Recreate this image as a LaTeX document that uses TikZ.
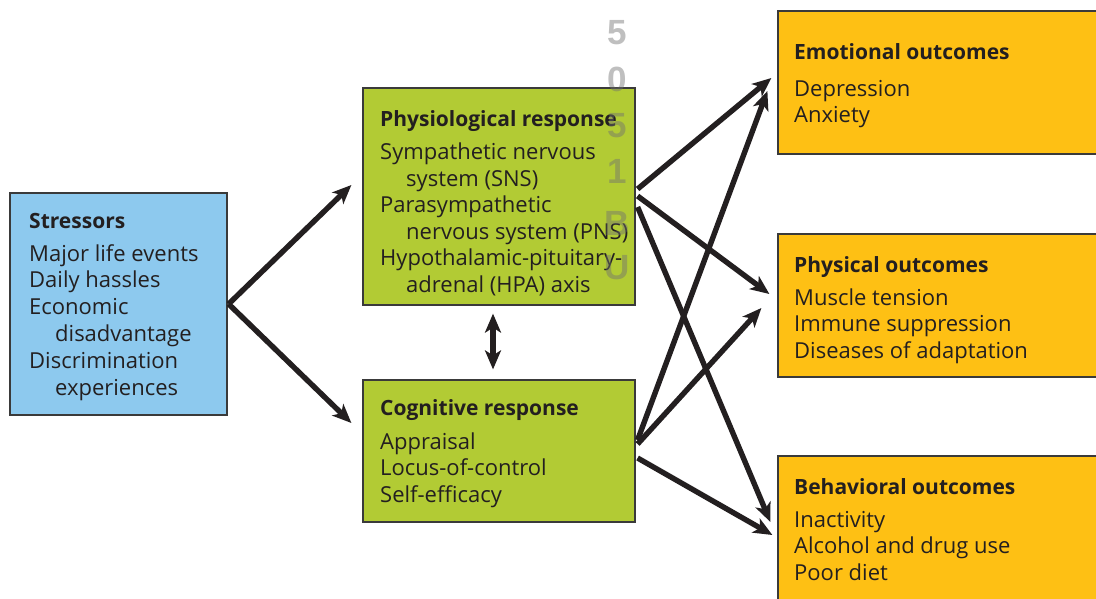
\documentclass[tikz,border=0pt]{standalone}
\usepackage{fontspec}
\setmainfont{Open Sans}
\newfontfamily\wmfont{Liberation Sans}
\usetikzlibrary{arrows.meta}
\definecolor{sblue}{HTML}{8DC9EE}
\definecolor{rgreen}{HTML}{B2CB34}
\definecolor{oorange}{HTML}{FEC014}
\definecolor{arrowc}{HTML}{231F20}
\definecolor{boxline}{HTML}{3A3A3A}
\definecolor{wmgray}{HTML}{707070}
\tikzset{
  box/.style={draw=boxline, line width=1.2pt, rectangle, inner sep=0pt},
  txt/.style={anchor=base west, inner sep=0pt, text=arrowc, font=\fontsize{22}{24}\selectfont},
  ttl/.style={txt, font=\fontsize{21}{24}\selectfont\bfseries},
  wm/.style={inner sep=0pt, text=wmgray, text opacity=0.45, font=\wmfont\bfseries\fontsize{35}{35}\selectfont},
  arr/.style={draw=arrowc, line width=5.4pt, -{Stealth[length=19pt,width=16pt,inset=5pt]}},
  darr/.style={draw=arrowc, line width=5.4pt, {Stealth[length=19pt,width=16pt,inset=5pt]}-{Stealth[length=19pt,width=16pt,inset=5pt]}}
}
\begin{document}
\begin{tikzpicture}[x=1pt,y=-1pt]
\useasboundingbox (0,0) rectangle (1096,598);
\clip (0,0) rectangle (1096,598);
% boxes
\node[box, fill=sblue, minimum width=217pt, minimum height=222pt] (stress) at (118.5,304) {};
\node[box, fill=rgreen, minimum width=272pt, minimum height=217pt] (phys) at (499,196.5) {};
\node[box, fill=rgreen, minimum width=272pt, minimum height=142pt] (cog) at (499,451) {};
\node[box, fill=oorange, minimum width=322pt, minimum height=143pt] (emo) at (939,82.5) {};
\node[box, fill=oorange, minimum width=322pt, minimum height=143pt] (physo) at (939,305.5) {};
\node[box, fill=oorange, minimum width=322pt, minimum height=154pt] (beh) at (939,533) {};
% stressors text
\node[ttl] (s0) at (29,228) {Stressors};
\node[txt] (s1) at (29,261) {Major life events};
\node[txt] (s2) at (29,287) {Daily hassles};
\node[txt] (s3) at (29,314) {Economic};
\node[txt] (s4) at (55,341) {disadvantage};
\node[txt] (s5) at (29,368) {Discrimination};
\node[txt] (s6) at (55,395) {experiences};
% physiological text
\node[ttl] (p0) at (380,126) {Physiological response};
\node[txt] (p1) at (380,159) {Sympathetic nervous};
\node[txt] (p2) at (406,186) {system (SNS)};
\node[txt] (p3) at (380,212) {Parasympathetic};
\node[txt] (p4) at (406,239) {nervous system (PNS)};
\node[txt] (p5) at (380,265) {Hypothalamic-pituitary-};
\node[txt] (p6) at (406,292) {adrenal (HPA) axis};
% cognitive text
\node[ttl] (c0) at (380,415) {Cognitive response};
\node[txt] (c1) at (380,449) {Appraisal};
\node[txt] (c2) at (380,475) {Locus-of-control};
\node[txt] (c3) at (380,502) {Self-efficacy};
% emotional
\node[ttl] (e0) at (794,59) {Emotional outcomes};
\node[txt] (e1) at (794,96) {Depression};
\node[txt] (e2) at (794,122) {Anxiety};
% physical
\node[ttl] (f0) at (794,272) {Physical outcomes};
\node[txt] (f1) at (794,305) {Muscle tension};
\node[txt] (f2) at (794,331) {Immune suppression};
\node[txt] (f3) at (794,358) {Diseases of adaptation};
% behavioral
\node[ttl] (b0) at (794,494) {Behavioral outcomes};
\node[txt] (b1) at (794,527) {Inactivity};
\node[txt] (b2) at (794,553) {Alcohol and drug use};
\node[txt] (b3) at (794,580) {Poor diet};
% watermark
\node[wm] (w1) at (617,33) {5};
\node[wm] (w2) at (617,79) {0};
\node[wm] (w3) at (617,126) {5};
\node[wm] (w4) at (617,171) {1};
\node[wm] (w5) at (617,223) {B};
\node[wm] (w6) at (617,268) {U};
% arrows
\draw[arr] ([xshift=1pt]stress.east) -- ([xshift=-11pt,yshift=11.5pt]phys.west);
\draw[arr] ([xshift=1pt]stress.east) -- ([xshift=-11pt,yshift=28pt]cog.west);
\draw[darr] ([xshift=-6pt,yshift=-8pt]phys.south) -- ([xshift=-6pt,yshift=10pt]cog.north);
\draw[arr] ([xshift=2pt,yshift=7.5pt]phys.east) -- ([xshift=-6pt,yshift=4.5pt]emo.west);
\draw[arr] ([xshift=2pt,yshift=0.5pt]phys.east) -- ([xshift=-8pt,yshift=11.5pt]physo.west);
\draw[arr] ([xshift=2pt,yshift=-10.5pt]phys.east) -- ([xshift=-7pt,yshift=11pt]beh.west);
\draw[arr] ([xshift=2pt,yshift=11pt]cog.east) -- ([xshift=-10pt,yshift=-8.5pt]emo.west);
\draw[arr] ([xshift=2pt,yshift=7pt]cog.east) -- ([xshift=-16pt,yshift=-2.5pt]physo.west);
\draw[arr] ([xshift=2pt,yshift=-7pt]cog.east) -- ([xshift=-5pt,yshift=-2pt]beh.west);
\end{tikzpicture}
\end{document}
